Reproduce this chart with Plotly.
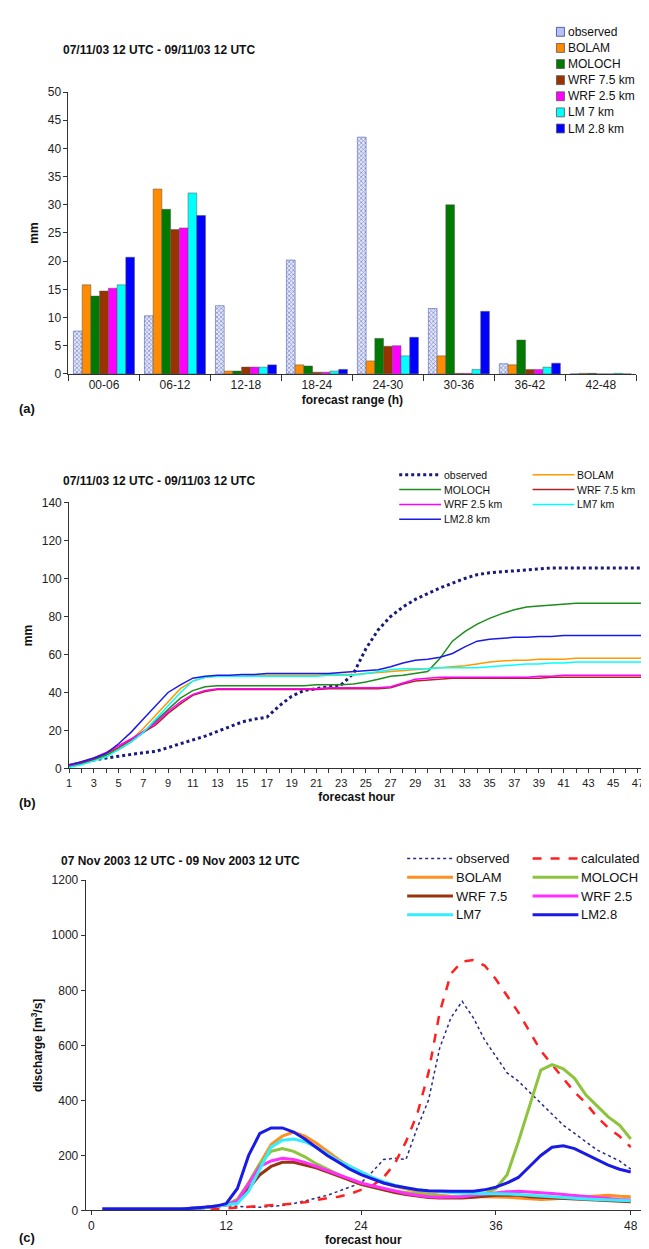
import plotly.graph_objects as go

# (a) 6-hourly precipitation
ranges = ['00-06', '06-12', '12-18', '18-24', '24-30', '30-36', '36-42', '42-48']
bar_obs = [7.6, 10.3, 12.1, 20.2, 42.0, 11.6, 1.8, 0.0]
bar_bolam = [15.8, 32.8, 0.5, 1.6, 2.3, 3.2, 1.6, 0.1]
bar_moloch = [13.8, 29.2, 0.5, 1.4, 6.3, 30.0, 6.0, 0.1]
bar_wrf75 = [14.7, 25.6, 1.2, 0.3, 4.9, 0.1, 0.8, 0.0]
bar_wrf25 = [15.2, 25.9, 1.2, 0.3, 5.0, 0.1, 0.8, 0.0]
bar_lm7 = [15.8, 32.1, 1.2, 0.5, 3.2, 0.8, 1.2, 0.1]
bar_lm28 = [20.7, 28.1, 1.6, 0.8, 6.5, 11.1, 1.9, 0.0]

# (b) cumulative precipitation, hours 1..48
hours = list(range(1, 49))
cum_obs = [1.5, 3, 4.5, 5.5, 6.5, 7.5, 8.3, 9, 11, 13, 15, 17, 19.5, 22, 24.5, 26, 27, 33, 38, 41,
           42, 43, 44, 50, 63, 73, 80, 85, 89, 92, 95, 97.5, 100, 102, 103, 103.5, 104, 104.5, 105, 105.5,
           105.5, 105.5, 105.5, 105.5, 105.5, 105.5, 105.5, 105.5]
cum_bolam = [1, 2.5, 4.5, 7, 11, 15, 21, 28, 35, 42, 46, 48, 48.5, 48.5, 48.5, 49, 49, 49, 49, 49,
             49, 49.5, 49.5, 49.5, 50, 50.5, 51, 51.5, 52, 52.5, 53, 53.5, 54, 55, 56, 56.5, 57, 57, 57.5, 57.5,
             57.5, 58, 58, 58, 58, 58, 58, 58]
cum_moloch = [1, 2.5, 4.5, 7, 10, 14, 19, 25, 31, 37, 41, 43, 43.5, 43.5, 43.5, 43.5, 43.5, 43.5, 43.5, 43.5,
              44, 44, 44, 44.5, 45.5, 47, 48.5, 49, 50, 51, 58, 67, 72, 76, 79, 81.5, 83.5, 85, 85.5, 86,
              86.5, 87, 87, 87, 87, 87, 87, 87]
cum_wrf75 = [1.5, 3, 5, 8, 11, 15, 19, 23, 29, 34, 38.5, 40.5, 41.5, 41.5, 41.5, 41.5, 41.5, 41.5, 41.5, 41.5,
             41.5, 42, 42, 42, 42, 42, 42.5, 44.5, 46, 46.5, 47, 47.5, 47.5, 47.5, 47.5, 47.5, 47.5, 47.5, 47.5, 48,
             48, 48, 48, 48, 48, 48, 48, 48]
cum_wrf25 = [1.5, 3.5, 5.5, 8.5, 12, 15.5, 19.5, 24, 30, 35, 39, 41, 42, 42, 42, 42, 42, 42, 42, 42,
             42, 42.5, 42.5, 42.5, 42.5, 42.5, 43, 45, 47, 47.5, 48, 48, 48, 48, 48, 48, 48, 48, 48.5, 48.5,
             49, 49, 49, 49, 49, 49, 49, 49]
cum_lm7 = [0.5, 2, 4, 6, 10, 14, 19, 26, 33, 40, 46, 48, 48.5, 48.5, 48.5, 48.5, 48.5, 48.5, 48.5, 48.5,
           48.5, 49, 49, 49, 50, 51, 52, 52.5, 52.5, 52.5, 53, 53, 53, 53, 53.5, 54, 54.5, 55, 55, 55.5,
           55.5, 56, 56, 56, 56, 56, 56, 56]
cum_lm28 = [2, 3.5, 5.5, 8, 13, 19, 26, 33, 40, 44, 47.5, 48.5, 49, 49, 49.5, 49.5, 50, 50, 50, 50,
            50, 50, 50.5, 51, 51.5, 52, 53.5, 55.5, 57, 57.5, 58.5, 60.5, 64, 67, 68, 68.5, 69, 69, 69.5, 69.5,
            70, 70, 70, 70, 70, 70, 70, 70]

# (c) discharge, hours 1..48
q_obs = [5, 5, 5, 5, 5, 5, 5, 5, 8, 12, 15, 18, 15, 12, 12, 15, 18, 25, 35, 45,
         55, 70, 85, 100, 140, 185, 190, 185, 300, 400, 590, 700, 760, 700, 620, 560, 500, 470, 430, 390,
         350, 310, 280, 250, 220, 200, 180, 150]
q_calc = [0, 0, 0, 0, 0, 0, 0, 0, 0, 2, 5, 8, 10, 12, 15, 18, 22, 25, 30, 38,
          45, 50, 60, 75, 90, 120, 170, 250, 350, 500, 720, 860, 905, 910, 890, 840, 780, 720, 650, 580,
          530, 480, 430, 390, 340, 300, 270, 230]
q_bolam = [5, 5, 5, 5, 5, 5, 5, 5, 8, 10, 15, 20, 40, 100, 170, 240, 270, 285, 270, 245,
           215, 185, 160, 140, 120, 100, 88, 78, 70, 62, 55, 52, 50, 50, 50, 50, 48, 45, 42, 40,
           42, 45, 48, 50, 52, 55, 52, 50]
q_moloch = [5, 5, 5, 5, 5, 5, 5, 5, 8, 10, 15, 20, 40, 100, 170, 215, 225, 215, 195, 170,
            150, 130, 110, 95, 85, 75, 70, 65, 60, 55, 52, 50, 50, 52, 60, 80, 130, 250, 380, 510,
            530, 515, 480, 420, 380, 340, 310, 260]
q_wrf75 = [5, 5, 5, 5, 5, 5, 5, 5, 8, 10, 15, 20, 30, 80, 130, 160, 175, 175, 165, 155,
           140, 125, 110, 95, 85, 75, 65, 58, 52, 47, 45, 45, 45, 48, 52, 55, 55, 55, 50, 48,
           45, 43, 42, 40, 38, 36, 34, 32]
q_wrf25 = [5, 5, 5, 5, 5, 5, 5, 5, 8, 10, 15, 20, 35, 100, 160, 180, 190, 185, 175, 160,
           145, 130, 115, 100, 90, 80, 70, 62, 55, 50, 48, 48, 50, 55, 60, 65, 68, 70, 68, 65,
           62, 58, 54, 50, 47, 44, 40, 38]
q_lm7 = [5, 5, 5, 5, 5, 5, 5, 5, 8, 10, 15, 20, 25, 70, 150, 230, 255, 260, 250, 230,
         205, 180, 160, 140, 120, 105, 92, 82, 75, 70, 68, 65, 63, 62, 62, 62, 60, 58, 55, 52,
         50, 48, 45, 42, 40, 38, 36, 35]
q_lm28 = [5, 5, 5, 5, 5, 5, 5, 5, 8, 12, 15, 25, 80, 200, 280, 300, 300, 285, 260, 230,
          200, 175, 150, 130, 115, 100, 90, 82, 75, 72, 70, 70, 70, 70, 75, 85, 100, 120, 160, 200,
          230, 235, 225, 205, 185, 165, 150, 140]

FONT = 'Liberation Sans, Arial, sans-serif'
W, H = 649, 1249
fig = go.Figure()

# ---- panel (a)
bar_series = [('BOLAM', bar_bolam, '#FF8C00'), ('MOLOCH', bar_moloch, '#007A00'),
              ('WRF 7.5 km', bar_wrf75, '#993300'), ('WRF 2.5 km', bar_wrf25, '#FF00FF'),
              ('LM 7 km', bar_lm7, '#00FFFF'), ('LM 2.8 km', bar_lm28, '#0000FF')]
obs_marker = dict(color='#A8B4EC', line=dict(color='#5060B8', width=0.6),
                  pattern=dict(shape='x', fgcolor='#2C3C9C', bgcolor='#E4E8FA', size=3, solidity=0.45))
fig.add_trace(go.Bar(x=ranges, y=bar_obs, name='observed', xaxis='x', yaxis='y', marker=obs_marker))
for name, vals, col in bar_series:
    fig.add_trace(go.Bar(x=ranges, y=vals, name=name, xaxis='x', yaxis='y',
                         marker=dict(color=col, line=dict(color='#555', width=0.5))))

# ---- panel (b)
line_b = [('observed', cum_obs, '#1A1A7A', 'dot', 3), ('BOLAM', cum_bolam, '#FF9900', 'solid', 1.5),
          ('MOLOCH', cum_moloch, '#1E8C1E', 'solid', 1.5), ('WRF 7.5 km', cum_wrf75, '#B22222', 'solid', 1.5),
          ('WRF 2.5 km', cum_wrf25, '#FF00FF', 'solid', 1.5), ('LM7 km', cum_lm7, '#00FFFF', 'solid', 1.5),
          ('LM2.8 km', cum_lm28, '#1A1AE6', 'solid', 1.5)]
for name, vals, col, dash, w in line_b:
    fig.add_trace(go.Scatter(x=hours, y=vals, name=name, mode='lines', xaxis='x2', yaxis='y2',
                             line=dict(color=col, dash=dash, width=w)))

# ---- panel (c)
line_c = [('observed', q_obs, '#2A2A8A', 'dot', 1.5), ('calculated', q_calc, '#FF2020', 'dash', 2.5),
          ('BOLAM', q_bolam, '#FF9020', 'solid', 3), ('MOLOCH', q_moloch, '#8CC43C', 'solid', 3),
          ('WRF 7.5', q_wrf75, '#993311', 'solid', 3), ('WRF 2.5', q_wrf25, '#FF30FF', 'solid', 3),
          ('LM7', q_lm7, '#33EEFF', 'solid', 3), ('LM2.8', q_lm28, '#1A1AE6', 'solid', 3)]
for name, vals, col, dash, w in line_c:
    fig.add_trace(go.Scatter(x=hours, y=vals, name=name, mode='lines', xaxis='x3', yaxis='y3',
                             line=dict(color=col, dash=dash, width=w)))

axis_common = dict(showgrid=False, zeroline=False, showline=True, linecolor='#333', linewidth=1,
                   ticks='outside', tickcolor='#333', ticklen=4, tickfont=dict(size=12, color='#222'))
title_font = dict(size=12, color='#111', family=FONT)

fig.update_layout(
    width=W, height=H, margin=dict(l=0, r=0, t=0, b=0), showlegend=False,
    paper_bgcolor='white', plot_bgcolor='white',
    font=dict(family=FONT, color='#222'),
    barmode='group', bargap=0.14, bargroupgap=0,
    xaxis=dict(axis_common, type='category', domain=[0.089, 0.968], anchor='y', ticklen=6,
               tickson='boundaries',
               title=dict(text='<b>forecast range (h)</b>', font=title_font, standoff=4)),
    yaxis=dict(axis_common, domain=[0.7094, 0.9376], anchor='x', range=[0, 50], dtick=5,
               title=dict(text='<b>mm</b>', font=title_font, standoff=6)),
    xaxis2=dict(axis_common, domain=[0.090, 0.98], anchor='y2', range=[1, 47.5], tick0=1, dtick=2,
                tickfont=dict(size=11, color='#222'),
                minor=dict(ticks='outside', dtick=1, ticklen=4, tickcolor='#333'),
                title=dict(text='<b>forecast hour</b>', font=title_font, standoff=4)),
    yaxis2=dict(axis_common, domain=[0.3899, 0.6053], anchor='x2', range=[0, 140], dtick=20,
                title=dict(text='<b>mm</b>', font=title_font, standoff=6)),
    xaxis3=dict(axis_common, domain=[0.1156, 0.975], anchor='y3', range=[-0.5, 48.9], tick0=0, dtick=12,
                title=dict(text='<b>forecast hour</b>', font=title_font, standoff=2)),
    yaxis3=dict(axis_common, domain=[0.032, 0.2994], anchor='x3', range=[0, 1200], dtick=200,
                title=dict(text='<b>discharge [m<sup>3</sup>/s]</b>', font=title_font, standoff=6)),
)


def px_x(v):
    return v / W


def px_y(v):
    return 1 - v / H


def label(x, y, text, size, bold=False):
    fig.add_annotation(x=px_x(x), y=px_y(y), xref='paper', yref='paper',
                       text='<b>%s</b>' % text if bold else text, showarrow=False,
                       xanchor='left', yanchor='middle', font=dict(size=size, color='#111', family=FONT))


# titles and panel letters
label(50, 35, '07/11/03 12 UTC - 09/11/03 12 UTC', 12, True)
label(50, 471, '07/11/03 12 UTC - 09/11/03 12 UTC', 12, True)
label(48, 856, '07 Nov 2003 12 UTC - 09 Nov 2003 12 UTC', 12, True)
label(6, 398, '(a)', 13, True)
label(6, 796, '(b)', 13, True)
label(6, 1236, '(c)', 13, True)

# legend (a): swatches
swatches = [('observed', '#B8C2F0', '#3040A0')] + [(n, c, '#555') for n, _, c in bar_series]
for i, (name, col, edge) in enumerate(swatches):
    yc = 17 + i * 16.3
    fig.add_shape(type='rect', xref='paper', yref='paper', x0=px_x(548), x1=px_x(556),
                  y0=px_y(yc + 4.5), y1=px_y(yc - 4.5), fillcolor=col, line=dict(color=edge, width=0.8))
    label(558, yc, name, 12)


def line_legend(items, cols, rows, length, size):
    for i, (name, _, col, dash, w) in enumerate(items):
        x0 = cols[i % 2]
        yc = rows[i // 2]
        fig.add_shape(type='line', xref='paper', yref='paper', x0=px_x(x0), x1=px_x(x0 + length),
                      y0=px_y(yc), y1=px_y(yc), line=dict(color=col, dash=dash, width=w))
        label(x0 + length + 1, yc, name, size)


line_legend(line_b, [390, 524], [465, 480, 495, 510], 42, 10.5)
line_legend(line_c, [398, 524], [853, 872, 891, 910], 46, 13)

fig.write_html("out.html")
